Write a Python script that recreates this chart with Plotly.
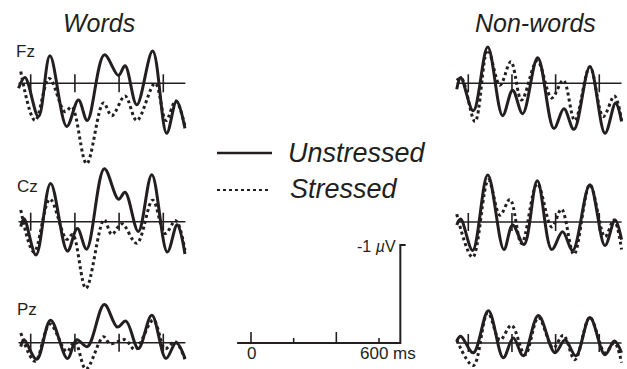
import plotly.graph_objects as go

# ---------------- data (time in ms, amplitude in µV; negative plotted up) -------------
ticks_ms = [0, 200, 400, 600]
electrodes = ["Fz", "Cz", "Pz"]
conditions = ["Words", "Non-words"]
legend_labels = ["Unstressed", "Stressed"]

# Words, Fz
t_w_fz_u = [-55, -26, 35, 87, 163, 216, 256, 333, 397, 427, 480, 552, 615, 660, 698]
w_fz_u = [0.05, -0.06, 0.34, -0.28, 0.44, 0.17, 0.38, -0.29, -0.08, -0.18, 0.22, -0.33, 0.51, 0.18, 0.46]
t_w_fz_s = [-45, 20, 84, 155, 186, 253, 329, 367, 427, 480, 563, 612, 656, 698]
w_fz_s = [-0.12, 0.38, -0.05, 0.29, 0.24, 0.82, 0.20, 0.33, 0.13, 0.38, 0.00, 0.38, 0.18, 0.44]
# Words, Cz
t_w_cz_u = [-45, -30, 24, 90, 166, 211, 253, 333, 397, 427, 487, 548, 618, 663, 698]
w_cz_u = [0.05, -0.03, 0.34, -0.39, 0.30, 0.07, 0.28, -0.54, -0.23, -0.30, 0.10, -0.48, 0.31, 0.03, 0.33]
t_w_cz_s = [-45, 15, 87, 163, 190, 250, 332, 367, 412, 480, 552, 608, 656, 698]
w_cz_s = [-0.12, 0.31, -0.23, 0.18, 0.13, 0.68, -0.02, 0.13, 0.02, 0.22, -0.22, 0.12, -0.01, 0.29]
# Words, Pz
t_w_pz_u = [-45, -30, 27, 90, 166, 208, 256, 333, 392, 431, 487, 548, 612, 658, 698]
w_pz_u = [0.04, -0.03, 0.17, -0.23, 0.16, -0.03, 0.04, -0.39, -0.16, -0.22, 0.06, -0.28, 0.16, 0.00, 0.16]
t_w_pz_s = [-45, 20, 87, 163, 200, 250, 329, 359, 427, 472, 555, 608, 653, 698]
w_pz_s = [-0.10, 0.19, -0.19, 0.09, -0.01, 0.27, -0.06, 0.01, -0.03, 0.07, -0.23, 0.06, -0.01, 0.17]

# Non-words, Fz
t_n_fz_u = [-53, -35, 23, 89, 157, 203, 249, 318, 392, 438, 484, 557, 626, 675, 702]
n_fz_u = [0.06, -0.06, 0.28, -0.37, 0.33, 0.07, 0.31, -0.26, 0.46, 0.26, 0.47, -0.17, 0.51, 0.20, 0.39]
t_n_fz_s = [-53, -31, 31, 89, 145, 195, 244, 316, 382, 435, 488, 557, 618, 669, 702]
n_fz_s = [-0.03, -0.05, 0.39, -0.34, 0.02, -0.22, 0.17, -0.23, 0.15, -0.03, 0.38, -0.17, 0.34, 0.13, 0.38]
# Non-words, Cz
t_n_cz_u = [-53, -35, 20, 89, 163, 203, 255, 316, 382, 432, 478, 557, 626, 672, 702]
n_cz_u = [0.03, -0.03, 0.29, -0.48, 0.28, 0.03, 0.23, -0.42, 0.28, 0.10, 0.29, -0.38, 0.24, -0.02, 0.18]
t_n_cz_s = [-53, 20, 92, 145, 191, 244, 316, 382, 427, 484, 557, 626, 667, 702]
n_cz_s = [-0.08, 0.36, -0.43, -0.07, -0.23, 0.22, -0.39, 0.05, -0.13, 0.33, -0.38, 0.15, -0.02, 0.28]
# Non-words, Pz
t_n_pz_u = [-53, -35, 23, 92, 160, 206, 252, 321, 397, 443, 493, 557, 626, 669, 702]
n_pz_u = [-0.02, -0.07, 0.10, -0.33, 0.15, -0.05, 0.13, -0.28, 0.10, -0.03, 0.13, -0.26, 0.12, -0.02, 0.10]
t_n_pz_s = [-53, 23, 89, 145, 198, 260, 321, 389, 435, 488, 557, 626, 669, 702]
n_pz_s = [-0.03, 0.23, -0.31, -0.03, -0.18, 0.12, -0.26, 0.05, -0.08, 0.17, -0.26, 0.10, 0.00, 0.20]

# scale bar
scale_time_ticks = [0, 200, 400, 600]
scale_time_labels = ["0", "", "", "600 ms"]
scale_amp = -1.0
scale_amp_label = "-1 <i>µ</i>V"

# ---------------- layout geometry ----------------
W, H = 627, 369
PX_PER_UV = 98.0
INK = "#231F20"

panels = [
    # (times_u, vals_u, times_s, vals_s, x0_px, px_per_ms, baseline_px, t_start, t_end)
    (t_w_fz_u, w_fz_u, t_w_fz_s, w_fz_s, 30.7, 0.221, 83.3, -55, 700),
    (t_w_cz_u, w_cz_u, t_w_cz_s, w_cz_s, 30.7, 0.221, 221.7, -55, 700),
    (t_w_pz_u, w_pz_u, t_w_pz_s, w_pz_s, 30.7, 0.221, 342.7, -55, 700),
    (t_n_fz_u, n_fz_u, t_n_fz_s, n_fz_s, 468.3, 0.2183, 83.3, -53, 702),
    (t_n_cz_u, n_cz_u, t_n_cz_s, n_cz_s, 468.3, 0.2183, 222.0, -53, 702),
    (t_n_pz_u, n_pz_u, t_n_pz_s, n_pz_s, 468.3, 0.2183, 343.0, -53, 702),
]

fig = go.Figure()
layout_axes = {}


def add_axes(i, x0_px, k, y0_px):
    xname = "xaxis" if i == 1 else f"xaxis{i}"
    yname = "yaxis" if i == 1 else f"yaxis{i}"
    layout_axes[xname] = dict(domain=[0, 1], range=[-x0_px / k, (W - x0_px) / k],
                              visible=False, fixedrange=True,
                              anchor="y" if i == 1 else f"y{i}")
    layout_axes[yname] = dict(domain=[0, 1], range=[(H - y0_px) / PX_PER_UV, -y0_px / PX_PER_UV],
                              visible=False, fixedrange=True,
                              anchor="x" if i == 1 else f"x{i}")
    return ("x" if i == 1 else f"x{i}"), ("y" if i == 1 else f"y{i}")


tick_half = 9 / PX_PER_UV
for idx, (tu, vu, ts, vs, x0, k, y0, ta, tb) in enumerate(panels, start=1):
    xa, ya = add_axes(idx, x0, k, y0)
    # baseline
    fig.add_trace(go.Scatter(x=[ta, tb], y=[0, 0], mode="lines", xaxis=xa, yaxis=ya,
                             line=dict(color=INK, width=1.6), showlegend=False, hoverinfo="skip"))
    # time ticks
    tx, ty = [], []
    for t in ticks_ms:
        tx += [t, t, None]
        ty += [-tick_half, tick_half, None]
    fig.add_trace(go.Scatter(x=tx, y=ty, mode="lines", xaxis=xa, yaxis=ya,
                             line=dict(color=INK, width=1.6), showlegend=False, hoverinfo="skip"))
    # stressed (dotted)
    fig.add_trace(go.Scatter(x=ts, y=vs, mode="lines", xaxis=xa, yaxis=ya,
                             line=dict(color=INK, width=3, dash="dot", shape="spline", smoothing=1.0),
                             showlegend=False, hoverinfo="skip"))
    # unstressed (solid)
    fig.add_trace(go.Scatter(x=tu, y=vu, mode="lines", xaxis=xa, yaxis=ya,
                             line=dict(color=INK, width=3, shape="spline", smoothing=1.0),
                             showlegend=False, hoverinfo="skip"))

# scale bar axes
sx0, sk, sy0 = 251.0, (379.0 - 251.0) / 600.0, 343.0
xa, ya = add_axes(7, sx0, sk, sy0)
t_left, t_right = -65, 700
fig.add_trace(go.Scatter(x=[t_left, t_right, t_right, t_right + 25],
                         y=[0, 0, scale_amp, scale_amp], mode="lines", xaxis=xa, yaxis=ya,
                         line=dict(color=INK, width=2), showlegend=False, hoverinfo="skip"))
tx, ty = [], []
for j, t in enumerate(scale_time_ticks):
    h = 11 if j % 2 == 0 else 5
    tx += [t, t, None]
    ty += [0, -h / PX_PER_UV, None]
fig.add_trace(go.Scatter(x=tx, y=ty, mode="lines", xaxis=xa, yaxis=ya,
                         line=dict(color=INK, width=1.6), showlegend=False, hoverinfo="skip"))

annotations = []


def txt(text, px, py, size, xanchor="left", yanchor="middle"):
    annotations.append(dict(text=text, x=px / W, y=1 - py / H, xref="paper", yref="paper",
                            xanchor=xanchor, yanchor=yanchor, showarrow=False,
                            font=dict(family="Liberation Sans, Arial, sans-serif", size=size, color=INK)))


# titles
txt("<i>" + conditions[0] + "</i>", 99.5, 23, 25, "center")
txt("<i>" + conditions[1] + "</i>", 535, 23, 25, "center")
# electrode labels
txt(electrodes[0], 14, 52, 17)
txt(electrodes[1], 15, 186, 17)
txt(electrodes[2], 15, 309, 17)
# legend
txt("<i>" + legend_labels[0] + "</i>", 286, 153, 27)
txt("<i>" + legend_labels[1] + "</i>", 288, 189, 27)
# scale labels
txt(scale_time_labels[0], 251, 353, 17, "center")
txt(scale_time_labels[3], 358, 353, 17, "left")
txt(scale_amp_label, 398, 246, 16, "right")

shapes = [
    dict(type="line", xref="paper", yref="paper", x0=217 / W, x1=272 / W, y0=1 - 153 / H, y1=1 - 153 / H,
         line=dict(color=INK, width=2.5)),
    dict(type="line", xref="paper", yref="paper", x0=217 / W, x1=271 / W, y0=1 - 190 / H, y1=1 - 190 / H,
         line=dict(color=INK, width=2, dash="dot")),
]

fig.update_layout(width=W, height=H, autosize=False,
                  margin=dict(l=0, r=0, t=0, b=0),
                  paper_bgcolor="white", plot_bgcolor="rgba(0,0,0,0)",
                  annotations=annotations, shapes=shapes, **layout_axes)

fig.write_html("out.html", config={"displayModeBar": False},
               post_script="document.body.style.margin='0';document.body.style.overflow='hidden';")
